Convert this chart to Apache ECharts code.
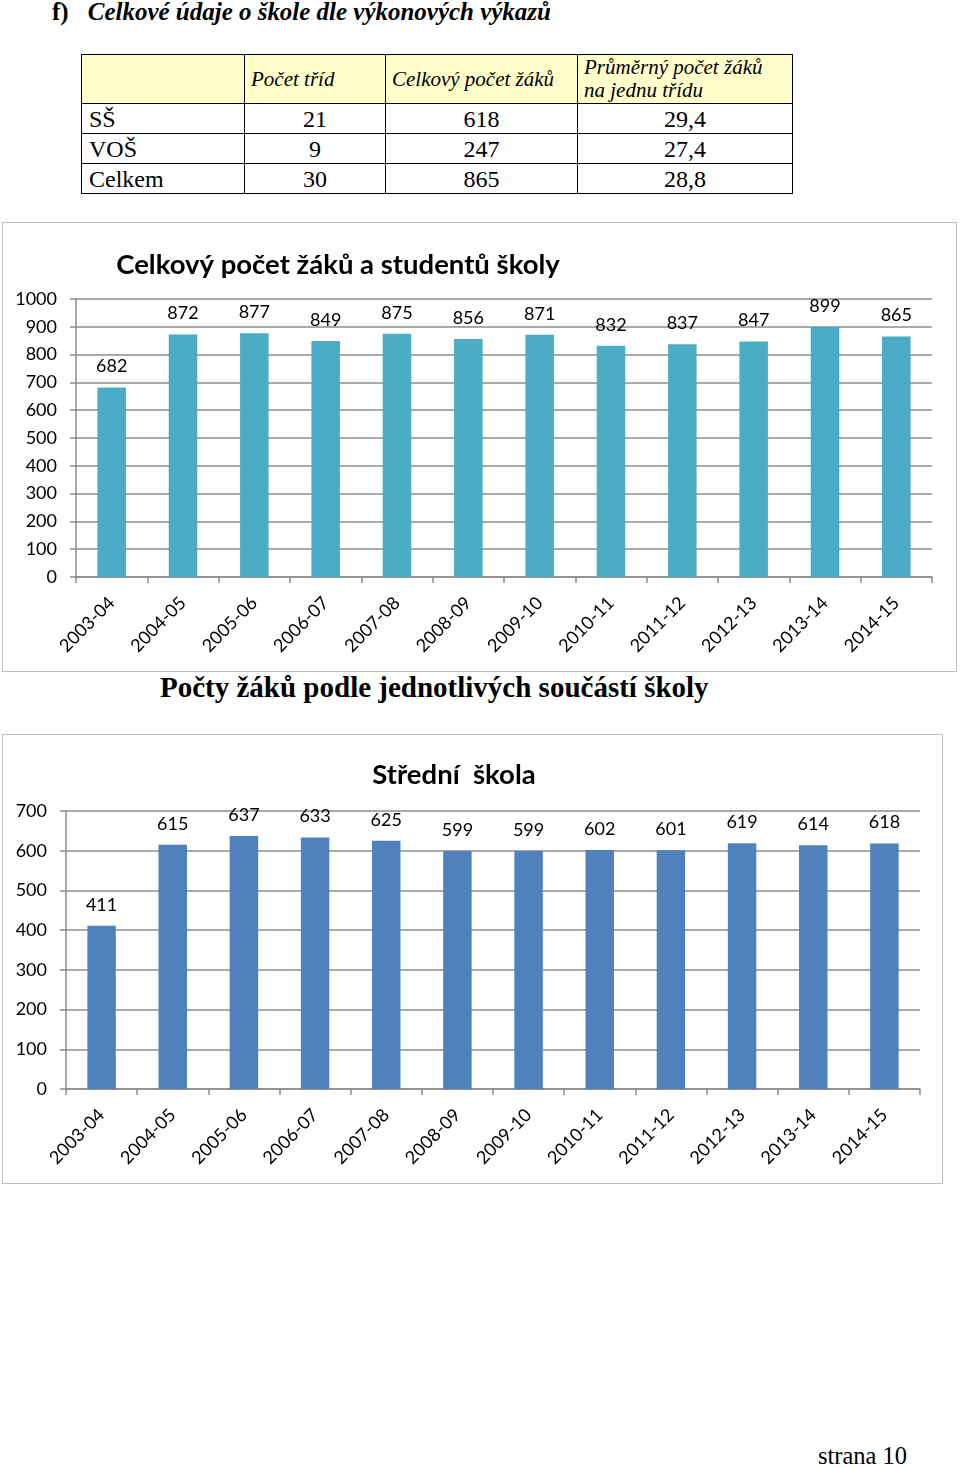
<!DOCTYPE html>
<html>
<head>
<meta charset="utf-8">
<script src="https://cdn.jsdelivr.net/npm/echarts/dist/echarts.min.js"></script>
<style>
  html, body { margin: 0; padding: 0; background: #fff; }
  body { width: 960px; height: 1468px; position: relative; overflow: hidden; }
  .head { position: absolute; left: 52px; top: -3px; font-family: "Liberation Serif", serif; font-weight: bold; font-size: 26px; white-space: nowrap; transform-origin: 0 0; transform: scaleX(0.96); }
  .head i { margin-left: 20px; }
  table { position: absolute; left: 81px; top: 54px; border-collapse: collapse; font-family: "Liberation Serif", serif; }
  td { border: 1.5px solid #000; padding: 0; height: 29px; font-size: 24px; line-height: 24px; text-align: center; }
  td.l { text-align: left; padding-left: 7px; }
  tr.h td { background: #FFFFCC; height: 48px; font-style: italic; font-size: 21px; line-height: 23px; text-align: left; padding-left: 6px; }
  .box { position: absolute; border: 1.5px solid #BFBFBF; box-sizing: border-box; }
  .sect { position: absolute; left: 160px; top: 671px; font-family: "Liberation Serif", serif; font-weight: bold; font-size: 29px; white-space: nowrap; }
  .foot { position: absolute; left: 818px; top: 1442px; font-family: "Liberation Serif", serif; font-size: 24.5px; }
</style>
</head>
<body>
<div class="head">f)<i>Celkové údaje o škole dle výkonových výkazů</i></div>
<table>
  <tr class="h"><td style="width:156px"></td><td style="width:134px">Počet tříd</td><td style="width:185px">Celkový počet žáků</td><td style="width:208px">Průměrný počet žáků<br>na jednu třídu</td></tr>
  <tr><td class="l">SŠ</td><td>21</td><td>618</td><td>29,4</td></tr>
  <tr><td class="l">VOŠ</td><td>9</td><td>247</td><td>27,4</td></tr>
  <tr><td class="l">Celkem</td><td>30</td><td>865</td><td>28,8</td></tr>
</table>
<div id="c1" class="box" style="left:2px;top:222px;width:955px;height:450px;"></div>
<div class="sect">Počty žáků podle jednotlivých součástí školy</div>
<div id="c2" class="box" style="left:2px;top:734px;width:941px;height:450px;"></div>
<div class="foot">strana 10</div>
<script>
const years = ["2003-04","2004-05","2005-06","2006-07","2007-08","2008-09","2009-10","2010-11","2011-12","2012-13","2013-14","2014-15"];
const totalStudents = [682, 872, 877, 849, 875, 856, 871, 832, 837, 847, 899, 865];
const ssStudents = [411, 615, 637, 633, 625, 599, 599, 602, 601, 619, 614, 618];
const title1 = "Celkový počet žáků a studentů školy";
const title2 = "Střední  škola";

const FONT = "Lato, 'Open Sans', sans-serif";
function makeOption(title, titleX, titleY, data, color, max, grid) {
  return {
    animation: false,
    textStyle: { fontFamily: FONT },
    title: { text: title, left: titleX, top: titleY, textAlign: 'center',
      textStyle: { fontFamily: FONT, fontWeight: 'bold', fontSize: 27.5, color: '#000' } },
    grid: grid,
    xAxis: {
      type: 'category', data: years,
      axisLine: { lineStyle: { color: '#8C8C8C', width: 1.5 } },
      axisTick: { show: true, length: 6, lineStyle: { color: '#8C8C8C', width: 1.5 } },
      axisLabel: { rotate: 45, fontSize: 18, color: '#000', margin: 23, fontFamily: FONT }
    },
    yAxis: {
      type: 'value', min: 0, max: max, interval: 100,
      axisLine: { show: true, lineStyle: { color: '#8C8C8C', width: 1.5 } },
      axisTick: { show: true, length: 6, lineStyle: { color: '#8C8C8C', width: 1.5 } },
      splitLine: { lineStyle: { color: '#8C8C8C', width: 1.5 } },
      axisLabel: { fontSize: 18, color: '#000', margin: 19, fontFamily: FONT, formatter: v => String(v) }
    },
    series: [{
      type: 'bar', data: data, barWidth: '40%',
      itemStyle: { color: color },
      label: { show: true, position: 'top', distance: 12, fontSize: 18, color: '#000', fontFamily: FONT }
    }]
  };
}
const c1 = echarts.init(document.getElementById('c1'), null, { renderer: 'canvas' });
c1.setOption(makeOption(title1, 330, 23, totalStudents, '#4BACC6', 1000,
  { left: 73, right: 24, top: 76, bottom: 94 }));
const c2 = echarts.init(document.getElementById('c2'), null, { renderer: 'canvas' });
c2.setOption(makeOption(title2, 446, 21, ssStudents, '#4F81BD', 700,
  { left: 63, right: 22, top: 76, bottom: 94 }));
</script>
</body>
</html>
